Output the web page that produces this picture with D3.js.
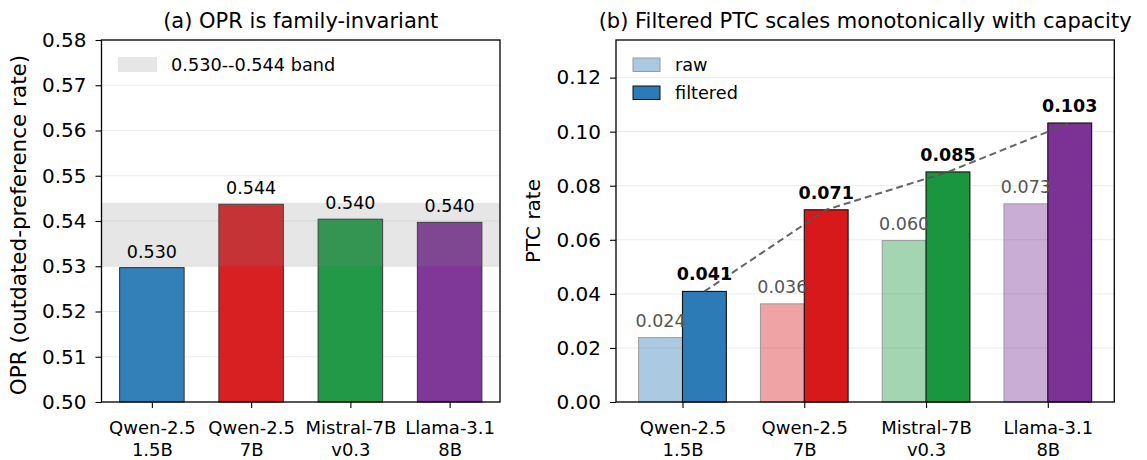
<!DOCTYPE html>
<html>
<head>
<meta charset="utf-8">
<script src="https://cdn.jsdelivr.net/npm/d3@7"></script>
<style>
  body { margin: 0; background: #fff; }
  svg, svg text { font-family: "DejaVu Sans", sans-serif; }
  .axis .domain { display: none; }
  .axis line { stroke: #000; stroke-width: 1.1; }
  .axis text { fill: #000; }
</style>
</head>
<body>
<svg id="chart" width="1147" height="460"></svg>
<script>
// data
var models = ["Qwen-2.5\n1.5B", "Qwen-2.5\n7B", "Mistral-7B\nv0.3", "Llama-3.1\n8B"];
var colors = ["#2c7bb6", "#d7191c", "#1a9641", "#7b3294"];
var oprValues = [0.5297, 0.5437, 0.5404, 0.5397];
var oprBand = [0.530, 0.544];
var oprTicks = [0.50, 0.51, 0.52, 0.53, 0.54, 0.55, 0.56, 0.57, 0.58];
var ptcRaw = [0.0238, 0.0363, 0.0597, 0.0733];
var ptcFiltered = [0.0409, 0.0711, 0.0851, 0.1032];
var ptcTicks = [0.00, 0.02, 0.04, 0.06, 0.08, 0.10, 0.12];

var svg = d3.select("#chart");
svg.append("rect").attr("width", 1147).attr("height", 460).attr("fill", "#fff");

function frame(g, x0, x1, y0, y1) {
  g.append("rect")
    .attr("x", x0).attr("y", y0)
    .attr("width", x1 - x0).attr("height", y1 - y0)
    .attr("fill", "none").attr("stroke", "#000").attr("stroke-width", 1.3);
}

function grid(g, y, ticks, x0, x1) {
  g.selectAll(".grid")
    .data(ticks)
    .enter().append("line")
    .attr("x1", x0).attr("x2", x1)
    .attr("y1", function(d) { return y(d); })
    .attr("y2", function(d) { return y(d); })
    .attr("stroke", "#ebebeb").attr("stroke-width", 1);
}

function xAxis(g, x, yPos) {
  var ax = g.append("g")
    .attr("class", "axis")
    .attr("transform", "translate(0," + yPos + ")")
    .call(d3.axisBottom(x).tickValues([0, 1, 2, 3]).tickSize(6).tickPadding(8).tickFormat(""));
  ax.attr("font-family", null);
  ax.selectAll(".tick").each(function(d) {
    var t = d3.select(this).append("text")
      .attr("text-anchor", "middle")
      .style("font-size", "18px");
    models[d].split("\n").forEach(function(line, i) {
      t.append("tspan").attr("x", 0).attr("y", 32 + i * 21.6).text(line);
    });
  });
}

function yAxis(g, y, ticks, xPos) {
  var ax = g.append("g")
    .attr("class", "axis")
    .attr("transform", "translate(" + xPos + ",0)")
    .call(d3.axisLeft(y).tickValues(ticks).tickSize(6).tickPadding(9).tickFormat(d3.format(".2f")));
  ax.attr("font-family", null);
  ax.selectAll("text").style("font-size", "20px");
}

// ---------- (a) OPR ----------
var L = {left: 101.5, right: 500, top: 40, bottom: 402};
var xa = d3.scaleLinear().domain([-0.5075, 3.5075]).range([L.left, L.right]);
var ya = d3.scaleLinear().domain([0.50, 0.58]).range([L.bottom, L.top]);
var ga = svg.append("g");

grid(ga, ya, oprTicks, L.left, L.right);

var wa = 0.65;
ga.selectAll(".bar")
  .data(oprValues)
  .enter().append("rect")
  .attr("x", function(d, i) { return xa(i - wa / 2); })
  .attr("width", xa(wa) - xa(0))
  .attr("y", function(d) { return ya(d); })
  .attr("height", function(d) { return L.bottom - ya(d); })
  .attr("fill", function(d, i) { return colors[i]; })
  .attr("fill-opacity", 0.97)
  .attr("stroke", "#333").attr("stroke-width", 1);

ga.append("rect")
  .attr("x", L.left).attr("width", L.right - L.left)
  .attr("y", ya(oprBand[1])).attr("height", ya(oprBand[0]) - ya(oprBand[1]))
  .attr("fill", "#808080").attr("fill-opacity", 0.2);

ga.selectAll(".lab")
  .data(oprValues)
  .enter().append("text")
  .attr("x", function(d, i) { return xa(i); })
  .attr("y", function(d) { return ya(d) - 10; })
  .attr("text-anchor", "middle")
  .style("font-size", "17.5px")
  .text(function(d) { return d.toFixed(3); });

frame(ga, L.left, L.right, L.top, L.bottom);
yAxis(ga, ya, oprTicks, L.left);
xAxis(ga, xa, L.bottom);

// legend (a)
ga.append("rect").attr("x", 118).attr("y", 57).attr("width", 39).attr("height", 15)
  .attr("fill", "#808080").attr("fill-opacity", 0.2);
ga.append("text").attr("x", 171).attr("y", 71).style("font-size", "17.7px").text("0.530--0.544 band");

ga.append("text")
  .attr("x", (L.left + L.right) / 2).attr("y", 28)
  .attr("text-anchor", "middle").style("font-size", "21px")
  .text("(a) OPR is family-invariant");
ga.append("text")
  .attr("transform", "translate(26," + (L.top + L.bottom + 8) / 2 + ") rotate(-90)")
  .attr("text-anchor", "middle").style("font-size", "21.5px")
  .text("OPR (outdated-preference rate)");

// ---------- (b) PTC ----------
var R = {left: 616, right: 1114.3, top: 40, bottom: 402};
var xb = d3.scaleLinear().domain([-0.546, 3.546]).range([R.left, R.right]);
var yb = d3.scaleLinear().domain([0, 0.1339]).range([R.bottom, R.top]);
var gb = svg.append("g");

grid(gb, yb, ptcTicks, R.left, R.right);

var wb = 0.36;
gb.selectAll(".raw")
  .data(ptcRaw)
  .enter().append("rect")
  .attr("x", function(d, i) { return xb(i - wb); })
  .attr("width", xb(wb) - xb(0))
  .attr("y", function(d) { return yb(d); })
  .attr("height", function(d) { return R.bottom - yb(d); })
  .attr("fill", function(d, i) { return colors[i]; })
  .attr("fill-opacity", 0.4)
  .attr("stroke", "#999").attr("stroke-width", 1);

gb.selectAll(".filt")
  .data(ptcFiltered)
  .enter().append("rect")
  .attr("x", function(d, i) { return xb(i); })
  .attr("width", xb(wb) - xb(0))
  .attr("y", function(d) { return yb(d); })
  .attr("height", function(d) { return R.bottom - yb(d); })
  .attr("fill", function(d, i) { return colors[i]; })
  .attr("stroke", "#111").attr("stroke-width", 1.1);

var line = d3.line()
  .x(function(d, i) { return xb(i + wb / 2); })
  .y(function(d) { return yb(d); });
gb.append("path")
  .datum(ptcFiltered)
  .attr("d", line)
  .attr("fill", "none")
  .attr("stroke", "#555").attr("stroke-opacity", 0.9)
  .attr("stroke-width", 2).attr("stroke-dasharray", "7,4");

gb.selectAll(".rlab")
  .data(ptcRaw)
  .enter().append("text")
  .attr("x", function(d, i) { return xb(i - wb / 2); })
  .attr("y", function(d) { return yb(d) - 11; })
  .attr("text-anchor", "middle")
  .style("font-size", "17.5px").attr("fill", "#555")
  .text(function(d) { return d.toFixed(3); });

gb.selectAll(".flab")
  .data(ptcFiltered)
  .enter().append("text")
  .attr("x", function(d, i) { return xb(i + wb / 2); })
  .attr("y", function(d) { return yb(d) - 11; })
  .attr("text-anchor", "middle")
  .style("font-size", "17.5px").style("font-weight", "bold")
  .text(function(d) { return d.toFixed(3); });

frame(gb, R.left, R.right, R.top, R.bottom);
yAxis(gb, yb, ptcTicks, R.left);
xAxis(gb, xb, R.bottom);

// legend (b)
gb.append("rect").attr("x", 633).attr("y", 58).attr("width", 27).attr("height", 13.5)
  .attr("fill", colors[0]).attr("fill-opacity", 0.4).attr("stroke", "#999");
gb.append("text").attr("x", 675).attr("y", 71).style("font-size", "17.7px").text("raw");
gb.append("rect").attr("x", 633).attr("y", 86).attr("width", 27).attr("height", 13.5)
  .attr("fill", colors[0]).attr("stroke", "#111");
gb.append("text").attr("x", 675).attr("y", 99).style("font-size", "17.7px").text("filtered");

gb.append("text")
  .attr("x", (R.left + R.right) / 2).attr("y", 28)
  .attr("text-anchor", "middle").style("font-size", "21px")
  .text("(b) Filtered PTC scales monotonically with capacity");
gb.append("text")
  .attr("transform", "translate(540," + (R.top + R.bottom) / 2 + ") rotate(-90)")
  .attr("text-anchor", "middle").style("font-size", "20px")
  .text("PTC rate");
</script>
</body>
</html>
